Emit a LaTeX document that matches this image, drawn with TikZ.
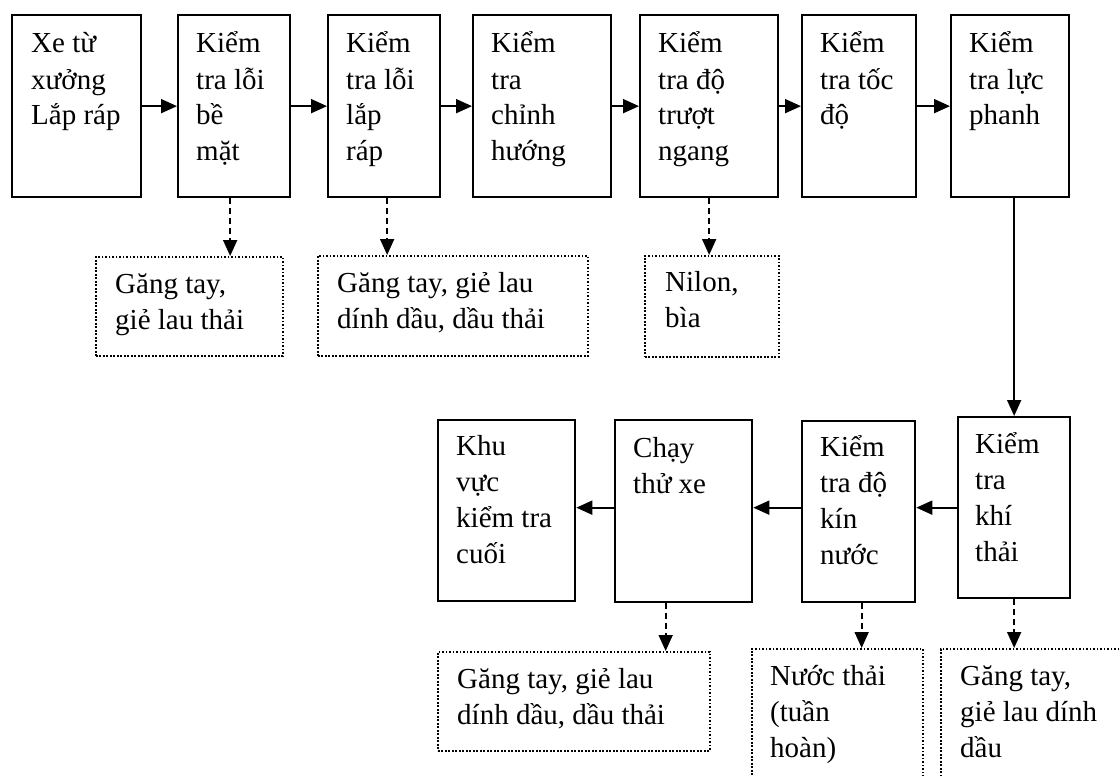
\documentclass[tikz,border=0pt]{standalone}
\usepackage{fontspec}
\setmainfont{Liberation Serif}
\usetikzlibrary{arrows.meta}
% top-aligned, ragged-right block of lines; its baseline is the first line's
\newcommand\lines[1]{\parbox[t]{300pt}{\lineskiplimit=-100pt\relax\raggedright #1}}

\begin{document}
\begin{tikzpicture}[x=1pt,y=-1pt,
  proc/.style={draw, line width=2.3pt, inner sep=0pt, anchor=north west},
  waste/.style={draw, line width=1.9pt, dash pattern=on 1.9pt off 1.6pt, inner sep=0pt, anchor=north west},
  txt/.style={inner sep=0pt, anchor=base west, font=\fontsize{29}{36}\selectfont},
  flow/.style={line width=1.8pt, -{Triangle[length=16pt,width=14pt]}},
  leak/.style={line width=1.8pt, dash pattern=on 6pt off 4pt, -{Triangle[length=16pt,width=14pt]}}]

\useasboundingbox (0,0) rectangle (1120,776);
\fill[white] (0,0) rectangle (1120,776);
\clip (0,0) rectangle (1120,776);

% ---- upper process line ----
\node[proc, minimum width=129pt, minimum height=182pt] (b1) at (11,14) {};
\node[proc, minimum width=112pt, minimum height=182pt] (b2) at (177,14) {};
\node[proc, minimum width=112pt, minimum height=182pt] (b3) at (327,14) {};
\node[proc, minimum width=138pt, minimum height=182pt] (b4) at (472,14) {};
\node[proc, minimum width=138pt, minimum height=182pt] (b5) at (639,14) {};
\node[proc, minimum width=114pt, minimum height=182pt] (b6) at (801,14) {};
\node[proc, minimum width=118pt, minimum height=182pt] (b7) at (950,14) {};

\node[txt] (t1) at ([shift={(20,39)}]b1.north west) {\lines{Xe từ\\xưởng\\Lắp ráp}};
\node[txt] (t2) at ([shift={(19,39)}]b2.north west) {\lines{Kiểm\\tra lỗi\\bề\\mặt}};
\node[txt] (t3) at ([shift={(19,39)}]b3.north west) {\lines{Kiểm\\tra lỗi\\lắp\\ráp}};
\node[txt] (t4) at ([shift={(19,39)}]b4.north west) {\lines{Kiểm\\tra\\chỉnh\\hướng}};
\node[txt] (t5) at ([shift={(19,39)}]b5.north west) {\lines{Kiểm\\tra độ\\trượt\\ngang}};
\node[txt] (t6) at ([shift={(19,39)}]b6.north west) {\lines{Kiểm\\tra tốc\\độ}};
\node[txt] (t7) at ([shift={(19,39)}]b7.north west) {\lines{Kiểm\\tra lực\\phanh}};

% ---- lower process line ----
\node[proc, minimum width=112pt, minimum height=181pt] (b8) at (957,416) {};
\node[proc, minimum width=113pt, minimum height=181pt] (b9) at (801,420) {};
\node[proc, minimum width=137pt, minimum height=182pt] (b10) at (614,419) {};
\node[proc, minimum width=137pt, minimum height=181pt] (b11) at (437,419) {};

\node[txt] (t8) at ([shift={(18,37)}]b8.north west) {\lines{Kiểm\\tra\\khí\\thải}};
\node[txt] (t9) at ([shift={(19,36)}]b9.north west) {\lines{Kiểm\\tra độ\\kín\\nước}};
\node[txt] (t10) at ([shift={(19,38)}]b10.north west) {\lines{Chạy\\thử xe}};
\node[txt] (t11) at ([shift={(19,36)}]b11.north west) {\lines{Khu\\vực\\kiểm tra\\cuối}};

% ---- waste boxes ----
\node[waste, minimum width=187pt, minimum height=99pt] (wA) at (95,256) {};
\node[waste, minimum width=270pt, minimum height=100pt] (wB) at (317,255) {};
\node[waste, minimum width=134pt, minimum height=101pt] (wC) at (644,255) {};
\node[waste, minimum width=272pt, minimum height=99pt] (wD) at (437,651) {};
\node[waste, minimum width=171pt, minimum height=160pt] (wE) at (751,648) {};
\node[waste, minimum width=200pt, minimum height=160pt] (wF) at (940,648) {};

\node[txt] (tA) at ([shift={(20,37)}]wA.north west) {\lines{Găng tay,\\giẻ lau thải}};
\node[txt] (tB) at ([shift={(20,37)}]wB.north west) {\lines{Găng tay, giẻ lau\\dính dầu, dầu thải}};
\node[txt] (tC) at ([shift={(21,36)}]wC.north west) {\lines{Nilon,\\bìa}};
\node[txt] (tD) at ([shift={(20,37)}]wD.north west) {\lines{Găng tay, giẻ lau\\dính dầu, dầu thải}};
\node[txt] (tE) at ([shift={(19,37)}]wE.north west) {\lines{Nước thải\\(tuần\\hoàn)}};
\node[txt] (tF) at ([shift={(20,37)}]wF.north west) {\lines{Găng tay,\\giẻ lau dính\\dầu}};

% ---- flow connectors ----
\draw[flow] (b1.east) -- (b2.west);
\draw[flow] (b2.east) -- (b3.west);
\draw[flow] (b3.east) -- (b4.west);
\draw[flow] (b4.east) -- (b5.west);
\draw[flow] (b5.east) -- (b6.west);
\draw[flow] (b6.east) -- (b7.west);
\draw[flow] (b8.north |- b7.south) -- (b8.north);
\draw[flow] (b8.west) -- (b8.west -| b9.east);
\draw[flow] (b8.west -| b9.west) -- (b8.west -| b10.east);
\draw[flow] (b8.west -| b10.west) -- (b8.west -| b11.east);

% ---- waste connectors ----
\draw[leak] ([xshift=-4pt]b2.south) -- ([xshift=-4pt]b2.south |- wA.north);
\draw[leak] ([xshift=3pt]b3.south) -- ([xshift=3pt]b3.south |- wB.north);
\draw[leak] (b5.south) -- (b5.south |- wC.north);
\draw[leak] ([xshift=-18pt]b10.south) -- ([xshift=-18pt]b10.south |- wD.north);
\draw[leak] ([xshift=3pt]b9.south) -- ([xshift=3pt]b9.south |- wE.north);
\draw[leak] (b8.south) -- (b8.south |- wF.north);
\end{tikzpicture}
\end{document}
